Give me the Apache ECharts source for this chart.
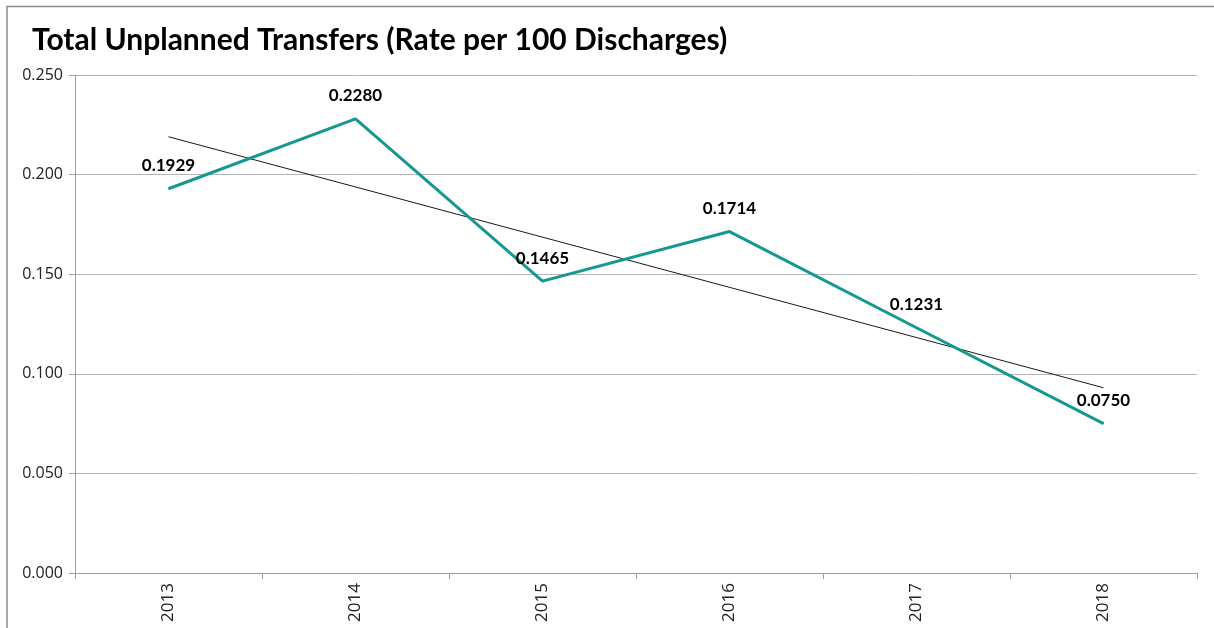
<!DOCTYPE html>
<html>
<head>
<meta charset="utf-8">
<script src="https://cdn.jsdelivr.net/npm/echarts@6/dist/echarts.min.js"></script>
<style>
  html, body { margin: 0; padding: 0; background: #fff; }
  #chart { width: 1214px; height: 628px; }
</style>
</head>
<body>
<div id="chart"></div>
<script>
// 数据
const years = ['2013', '2014', '2015', '2016', '2017', '2018'];
const rates = [0.1929, 0.2280, 0.1465, 0.1714, 0.1231, 0.0750];
// 趋势线 (读图: 两端点)
const trend = [0.219, null, null, null, null, 0.093];

const lineColor = '#16978f';

var myChart = echarts.init(document.getElementById('chart'));
var option = {
    animation: false,
    backgroundColor: '#fff',
    title: {
        text: 'Total Unplanned Transfers (Rate per 100 Discharges)',
        left: 27,
        top: 20,
        textStyle: {
            fontFamily: 'Lato',
            fontWeight: 'bold',
            fontSize: 30,
            color: '#000'
        }
    },
    graphic: [
        {
            type: 'polyline',
            silent: true,
            shape: { points: [[7, 628], [7, 6.5], [1214, 6.5]] },
            style: { stroke: '#8c8c8c', lineWidth: 1.5, fill: null }
        }
    ],
    grid: {
        left: 75,
        right: 17,
        top: 75,
        bottom: 55
    },
    xAxis: {
        type: 'category',
        data: years,
        boundaryGap: true,
        axisLine: { lineStyle: { color: '#a0a0a0', width: 1 } },
        axisTick: { show: true, length: 6, lineStyle: { color: '#a0a0a0' } },
        axisLabel: {
            rotate: 90,
            margin: 10,
            fontFamily: 'Open Sans',
            fontSize: 17,
            color: '#222'
        }
    },
    yAxis: {
        type: 'value',
        min: 0,
        max: 0.25,
        interval: 0.05,
        axisLine: { show: true, lineStyle: { color: '#a0a0a0', width: 1 } },
        axisTick: { show: true, length: 6, lineStyle: { color: '#a0a0a0' } },
        splitLine: { show: true, lineStyle: { color: '#b4b4b4', width: 1 } },
        axisLabel: {
            margin: 12,
            fontFamily: 'Open Sans',
            fontSize: 16,
            color: '#222',
            formatter: function (v) { return v.toFixed(3); }
        }
    },
    series: [
        {
            name: 'Trend',
            type: 'line',
            data: trend,
            connectNulls: true,
            symbol: 'none',
            silent: true,
            lineStyle: { color: '#1a1a1a', width: 1 },
            z: 1
        },
        {
            name: 'Rate',
            type: 'line',
            data: rates,
            symbol: 'circle',
            symbolSize: 1,
            showSymbol: true,
            itemStyle: { color: lineColor },
            lineStyle: { color: lineColor, width: 3 },
            label: {
                show: true,
                position: 'top',
                distance: 14,
                fontFamily: 'Lato',
                fontWeight: 'bold',
                fontSize: 17,
                color: '#000',
                formatter: function (p) { return p.value.toFixed(4); }
            },
            z: 2
        }
    ]
};
myChart.setOption(option);
</script>
</body>
</html>
